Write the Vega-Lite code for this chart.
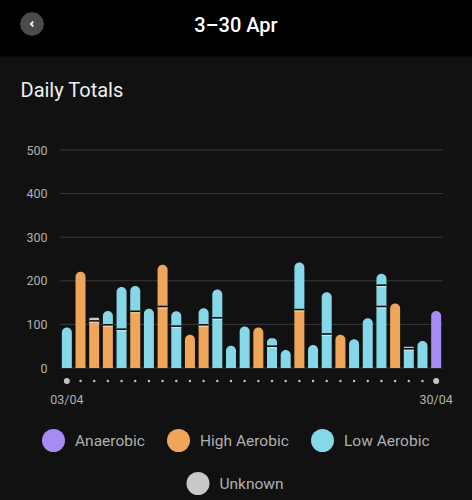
{"$schema":"https://vega.github.io/schema/vega-lite/v6.json","width":383,"height":218,"autosize":{"type":"none"},"padding":{"left":60,"top":150,"right":29,"bottom":132},"background":"#111111","config":{"view":{"stroke":null},"font":"Roboto"},"resolve":{"scale":{"x":"independent"}},"layer":[{"data":{"values":[{"part":"header","label":"3–30 Apr"}]},"layer":[{"mark":{"type":"rect","fill":"#000000"},"encoding":{"x":{"datum":0,"type":"quantitative","scale":{"domain":[0,1],"range":[-60,412]},"axis":null},"x2":{"datum":1},"y":{"datum":714.4,"type":"quantitative","scale":{"domain":[0,500],"nice":false},"axis":{"values":[0,100,200,300,400,500],"title":"Daily Totals","titleAngle":0,"titleAlign":"left","titleBaseline":"alphabetic","titleX":-40,"titleY":-54,"titleFontSize":20,"titleFontWeight":400,"titleColor":"#f0f0f0","titleFont":"Roboto","labelColor":"#b0b0b0","labelFontSize":12.5,"labelPadding":13,"labelFont":"Roboto","ticks":false,"domain":false,"grid":false}},"y2":{"datum":844}}},{"mark":{"type":"text","color":"#ffffff","fontSize":20,"fontWeight":500,"font":"Roboto","baseline":"middle","align":"center"},"encoding":{"text":{"field":"label"},"x":{"datum":0.5,"type":"quantitative","scale":{"domain":[0,1],"range":[-60,412]},"axis":null},"y":{"datum":784,"type":"quantitative","scale":{"domain":[0,500],"nice":false}}}},{"mark":{"type":"point","filled":true,"fill":"#4b4b4b","size":550,"shape":"circle","opacity":1},"encoding":{"x":{"datum":0.0678,"type":"quantitative","scale":{"domain":[0,1],"range":[-60,412]},"axis":null},"y":{"datum":789,"type":"quantitative","scale":{"domain":[0,500],"nice":false}}}},{"mark":{"type":"point","filled":false,"stroke":"#ffffff","strokeWidth":1.8,"size":90,"shape":"M0.25,-0.5L-0.25,0L0.25,0.5","opacity":1},"encoding":{"x":{"datum":0.0678,"type":"quantitative","scale":{"domain":[0,1],"range":[-60,412]},"axis":null},"y":{"datum":789,"type":"quantitative","scale":{"domain":[0,500],"nice":false}}}}]},{"data":{"values":[{"day":"03/04","order":1,"zone":"Low Aerobic","value":93},{"day":"04/04","order":1,"zone":"High Aerobic","value":221},{"day":"05/04","order":1,"zone":"High Aerobic","value":108},{"day":"05/04","order":2,"zone":"Unknown","value":7},{"day":"06/04","order":1,"zone":"High Aerobic","value":99},{"day":"06/04","order":2,"zone":"Low Aerobic","value":32},{"day":"07/04","order":1,"zone":"Low Aerobic","value":89},{"day":"07/04","order":2,"zone":"Low Aerobic","value":97},{"day":"08/04","order":1,"zone":"High Aerobic","value":130},{"day":"08/04","order":2,"zone":"Low Aerobic","value":58},{"day":"09/04","order":1,"zone":"Low Aerobic","value":136},{"day":"10/04","order":1,"zone":"High Aerobic","value":141},{"day":"10/04","order":2,"zone":"High Aerobic","value":96},{"day":"11/04","order":1,"zone":"Low Aerobic","value":96},{"day":"11/04","order":2,"zone":"Low Aerobic","value":34},{"day":"12/04","order":1,"zone":"High Aerobic","value":76},{"day":"13/04","order":1,"zone":"High Aerobic","value":99},{"day":"13/04","order":2,"zone":"Low Aerobic","value":38},{"day":"14/04","order":1,"zone":"Low Aerobic","value":115},{"day":"14/04","order":2,"zone":"Low Aerobic","value":65},{"day":"15/04","order":1,"zone":"Low Aerobic","value":51},{"day":"16/04","order":1,"zone":"Low Aerobic","value":95},{"day":"17/04","order":1,"zone":"High Aerobic","value":93},{"day":"18/04","order":1,"zone":"Low Aerobic","value":50},{"day":"18/04","order":2,"zone":"Low Aerobic","value":18},{"day":"19/04","order":1,"zone":"Low Aerobic","value":41},{"day":"20/04","order":1,"zone":"High Aerobic","value":134},{"day":"20/04","order":2,"zone":"Low Aerobic","value":108},{"day":"21/04","order":1,"zone":"Low Aerobic","value":53},{"day":"22/04","order":1,"zone":"Low Aerobic","value":78},{"day":"22/04","order":2,"zone":"Low Aerobic","value":96},{"day":"23/04","order":1,"zone":"High Aerobic","value":76},{"day":"24/04","order":1,"zone":"Low Aerobic","value":66},{"day":"25/04","order":1,"zone":"Low Aerobic","value":114},{"day":"26/04","order":1,"zone":"Low Aerobic","value":141},{"day":"26/04","order":2,"zone":"Low Aerobic","value":49},{"day":"26/04","order":3,"zone":"Low Aerobic","value":26},{"day":"27/04","order":1,"zone":"High Aerobic","value":148},{"day":"28/04","order":1,"zone":"Low Aerobic","value":44},{"day":"28/04","order":2,"zone":"Unknown","value":5},{"day":"29/04","order":1,"zone":"Low Aerobic","value":62},{"day":"30/04","order":1,"zone":"Anaerobic","value":131}]},"transform":[{"stack":"value","groupby":["day"],"sort":[{"field":"order","order":"ascending"}],"as":["y0","y1"]},{"joinaggregate":[{"op":"max","field":"order","as":"maxOrder"}],"groupby":["day"]}],"encoding":{"x":{"field":"day","type":"nominal","sort":null,"scale":{"domain":["03/04","04/04","05/04","06/04","07/04","08/04","09/04","10/04","11/04","12/04","13/04","14/04","15/04","16/04","17/04","18/04","19/04","20/04","21/04","22/04","23/04","24/04","25/04","26/04","27/04","28/04","29/04","30/04"],"paddingInner":0,"paddingOuter":0},"axis":{"values":["03/04","30/04"],"title":null,"labelAngle":0,"labelColor":"#b0b0b0","labelFontSize":12.5,"labelPadding":25,"ticks":false,"domain":false,"labelOverlap":false,"labelFont":"Roboto"}}},"layer":[{"data":{"values":[{"gridValue":0},{"gridValue":100},{"gridValue":200},{"gridValue":300},{"gridValue":400},{"gridValue":500}]},"transform":[],"mark":{"type":"rule","color":"#3a3a3a","strokeWidth":1},"encoding":{"x":null,"y":{"field":"gridValue","type":"quantitative","scale":{"domain":[0,500],"nice":false}}}},{"transform":[{"filter":"datum.order !== datum.maxOrder"}],"mark":{"type":"bar","width":10},"encoding":{"y":{"field":"y0","type":"quantitative","scale":{"domain":[0,500],"nice":false}},"y2":{"field":"y1"},"color":{"field":"zone","type":"nominal","scale":{"domain":["Anaerobic","High Aerobic","Low Aerobic","Unknown"],"range":["#a78bf5","#f0a65a","#86d8e8","#c8c8c8"]},"legend":{"orient":"none","legendX":-18,"legendY":279,"direction":"horizontal","columns":3,"title":null,"values":["Anaerobic","High Aerobic","Low Aerobic"],"symbolType":"circle","symbolSize":529,"symbolStrokeWidth":0,"symbolOpacity":1,"labelColor":"#b0b0b0","labelFontSize":15.5,"labelFont":"Roboto","labelOffset":10,"columnPadding":22,"gridAlign":"each"}}}},{"transform":[{"filter":"datum.order === datum.maxOrder"}],"mark":{"type":"bar","width":10,"cornerRadiusTopLeft":5,"cornerRadiusTopRight":5},"encoding":{"y":{"field":"y0","type":"quantitative","scale":{"domain":[0,500],"nice":false}},"y2":{"field":"y1"},"color":{"field":"zone","type":"nominal","scale":{"domain":["Anaerobic","High Aerobic","Low Aerobic","Unknown"],"range":["#a78bf5","#f0a65a","#86d8e8","#c8c8c8"]},"legend":null}}},{"transform":[{"filter":"datum.order !== datum.maxOrder"}],"mark":{"type":"tick","orient":"horizontal","color":"#111111","size":10,"thickness":1.6,"opacity":1},"encoding":{"y":{"field":"y1","type":"quantitative","scale":{"domain":[0,500],"nice":false}}}},{"transform":[{"filter":"datum.order !== datum.maxOrder"}],"mark":{"type":"tick","orient":"horizontal","color":"#ffffff","size":10,"thickness":1,"opacity":0.55,"yOffset":1.5},"encoding":{"y":{"field":"y1","type":"quantitative","scale":{"domain":[0,500],"nice":false}}}},{"transform":[{"filter":"datum.order === 1"}],"mark":{"type":"point","filled":true,"fill":"#c4c4c4","opacity":1},"encoding":{"y":{"datum":-30,"type":"quantitative","scale":{"domain":[0,500],"nice":false}},"size":{"condition":{"test":"datum.day === '03/04' || datum.day === '30/04'","value":36},"value":6}}},{"transform":[{"filter":"datum.zone === 'Unknown'"}],"mark":{"type":"point","filled":true,"opacity":0,"fill":"#c8c8c8","size":0},"encoding":{"y":{"field":"y0","type":"quantitative","scale":{"domain":[0,500],"nice":false}},"shape":{"field":"zone","type":"nominal","scale":{"domain":["Unknown"],"range":["circle"]},"legend":{"orient":"none","legendX":126.5,"legendY":322,"title":null,"symbolSize":529,"symbolFillColor":"#c8c8c8","symbolStrokeWidth":0,"symbolOpacity":1,"labelColor":"#b0b0b0","labelFontSize":15.5,"labelFont":"Roboto","labelOffset":10}}}}]}]}
